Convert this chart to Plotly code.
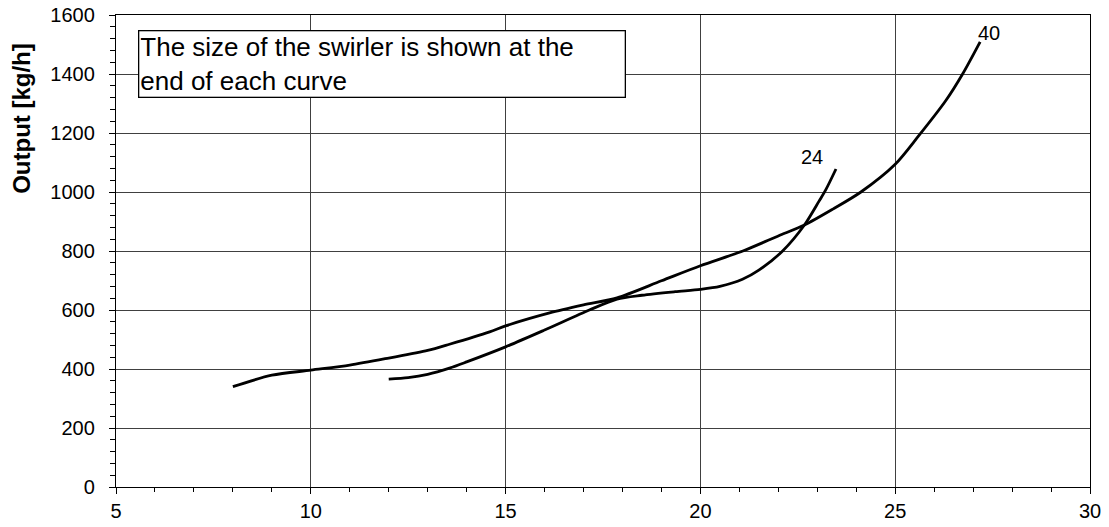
import plotly.graph_objects as go

# Swirler size 40
x40 = [8.0, 9.0, 10.0, 11.0, 12.0, 13.0, 13.56, 14.59, 15.0, 16.13, 17.0, 17.86, 19.0, 20.0, 21.09, 22.0, 22.67, 23.4, 24.12, 25.0, 25.6, 26.3, 26.73, 27.18]
y40 = [340, 379, 396, 413, 437, 463, 484, 526, 546, 590, 617, 641, 699, 750, 800, 851, 888, 942, 1000, 1094, 1190, 1310, 1400, 1509]

# Swirler size 24
x24 = [12.0, 12.5, 13.0, 13.56, 14.0, 15.0, 16.0, 17.15, 17.86, 18.5, 19.35, 20.0, 20.5, 21.08, 21.5, 22.11, 22.67, 23.05, 23.22, 23.48]
y24 = [366, 371, 382, 403, 424, 475, 532, 600, 637, 650, 662, 670, 680, 704, 735, 800, 888, 970, 1008, 1078]

curve_labels = ["40", "24"]
label_x = [27.41, 22.87]
label_y = [1540, 1117]

note_text = "The size of the swirler is shown at the<br>end of each curve"
y_title = "Output [kg/h]"

FONT = "Liberation Sans, Arial, sans-serif"

fig = go.Figure()
for xs, ys in [(x40, y40), (x24, y24)]:
    fig.add_trace(go.Scatter(x=xs, y=ys, mode="lines",
                             line=dict(color="black", width=2.8, shape="spline", smoothing=0.8),
                             showlegend=False, hoverinfo="skip"))

for t, lx, ly in zip(curve_labels, label_x, label_y):
    fig.add_annotation(x=lx, y=ly, text=t, showarrow=False,
                       font=dict(family=FONT, size=20, color="black"))

fig.add_annotation(x=5.56, y=1550, xref="x", yref="y", xanchor="left", yanchor="top",
                   text=note_text, showarrow=False, align="left",
                   width=483, height=63, valign="middle",
                   bordercolor="black", borderwidth=1.3, borderpad=1, bgcolor="white",
                   font=dict(family=FONT, size=26, color="black"))

# y-axis title (placed like the original, towards the top)
fig.add_annotation(x=-0.0965, y=0.78, xref="paper", yref="paper", text="<b>" + y_title + "</b>",
                   textangle=-90, showarrow=False, xanchor="center", yanchor="middle",
                   font=dict(family=FONT, size=24, color="black"))

fig.update_xaxes(range=[5, 30], dtick=5, tick0=5, showgrid=True, gridcolor="#404040", gridwidth=1,
                 showline=True, linecolor="black", linewidth=1.3, mirror=True,
                 ticks="outside", ticklen=6, tickcolor="black", ticklabelstandoff=0,
                 minor=dict(dtick=1, ticks="outside", ticklen=4, tickcolor="black", showgrid=False),
                 tickfont=dict(family=FONT, size=20, color="black"), zeroline=False)
fig.update_yaxes(range=[0, 1600], dtick=200, showgrid=True, gridcolor="#404040", gridwidth=1,
                 showline=True, linecolor="black", linewidth=1.3, mirror=True,
                 ticks="outside", ticklen=6, tickcolor="black", ticklabelstandoff=10,
                 minor=dict(dtick=40, ticks="outside", ticklen=5, tickcolor="black", showgrid=False),
                 tickfont=dict(family=FONT, size=20, color="black"), zeroline=False)

fig.update_layout(width=1109, height=527, plot_bgcolor="white", paper_bgcolor="white",
                  margin=dict(l=116, r=19, t=15, b=40, autoexpand=False))

fig.write_html("out.html", config={"displayModeBar": False},
               post_script="document.body.style.margin='0';document.body.style.overflow='hidden';")
